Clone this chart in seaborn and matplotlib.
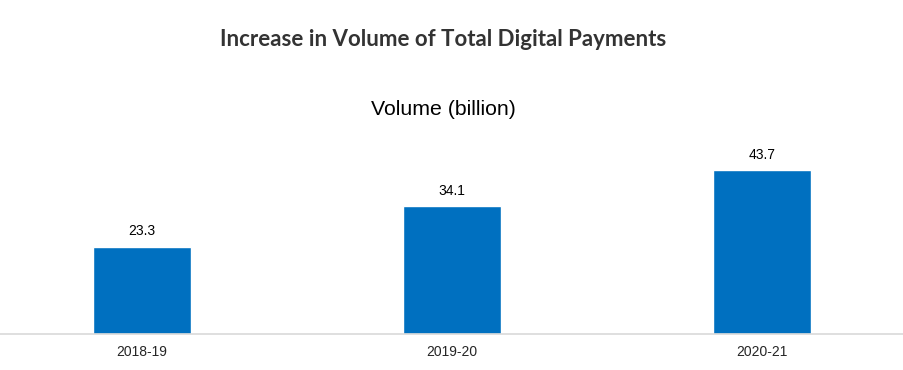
import matplotlib
matplotlib.use("Agg")
import matplotlib.pyplot as plt
import seaborn as sns
import pandas as pd

# data
years = ["2018-19", "2019-20", "2020-21"]
volume = [23.3, 34.1, 43.7]

df = pd.DataFrame({"year": years, "volume": volume})

sns.set_style("white")
plt.rcParams["font.family"] = ["Liberation Sans", "DejaVu Sans"]

fig = plt.figure(figsize=(9.04, 3.7), dpi=100)
ax = fig.add_axes([0.0, 0.097, 1.0, 0.507])

sns.barplot(data=df, x="year", y="volume", color="#0070c0", width=0.313,
            saturation=1, ax=ax)

ax.set_xlim(-0.458, 2.458)
ax.set_ylim(0, 50)

for i, v in enumerate(volume):
    ax.annotate(f"{v}", (i, v), xytext=(0, 6), textcoords="offset points",
                ha="center", va="bottom", fontsize=10, color="#000000")

ax.set_xlabel("")
ax.set_ylabel("")
ax.set_yticks([])
ax.tick_params(axis="x", length=0, pad=8, labelsize=10)
for s in ["top", "left", "right"]:
    ax.spines[s].set_visible(False)
ax.spines["bottom"].set_color("#d9d9d9")
ax.spines["bottom"].set_linewidth(1.2)

fig.text(0.49, 0.892, "Increase in Volume of Total Digital Payments",
         ha="center", va="center", fontsize=16, fontweight="bold",
         color="#333333", family=["Lato", "DejaVu Sans"])
fig.text(0.49, 0.705, "Volume (billion)", ha="center", va="center",
         fontsize=15.3, color="#000000")

fig.savefig("out.png", dpi=100)
